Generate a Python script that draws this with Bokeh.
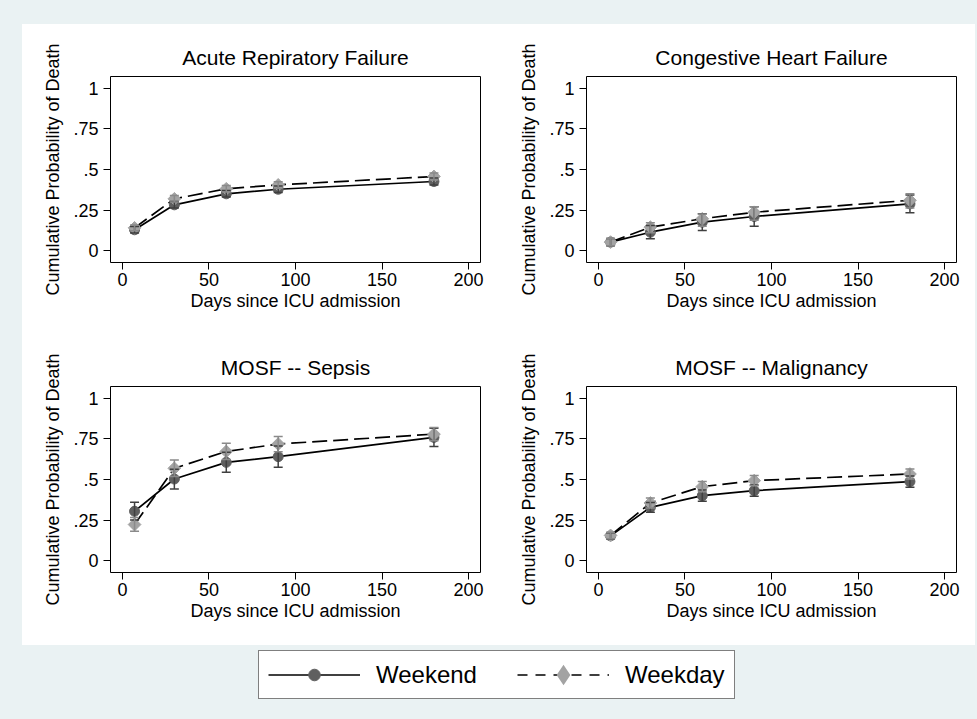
import math
from bokeh.plotting import figure
from bokeh.models import (Range1d, FixedTicker, Whisker, TeeHead, ColumnDataSource,
                          Legend, LegendItem, Spacer)
from bokeh.layouts import column, row
from bokeh.embed import file_html
from bokeh.resources import INLINE

# ---------------- data ----------------
days = [7, 30, 60, 90, 180]

titles = ["Acute Repiratory Failure", "Congestive Heart Failure",
          "MOSF -- Sepsis", "MOSF -- Malignancy"]

arf_weekend = [0.128, 0.282, 0.350, 0.378, 0.426]
arf_weekend_lo = [0.108, 0.262, 0.330, 0.358, 0.404]
arf_weekend_hi = [0.148, 0.302, 0.370, 0.398, 0.448]
arf_weekday = [0.140, 0.319, 0.381, 0.405, 0.457]
arf_weekday_lo = [0.122, 0.299, 0.361, 0.385, 0.435]
arf_weekday_hi = [0.158, 0.339, 0.401, 0.425, 0.479]

chf_weekend = [0.052, 0.113, 0.175, 0.210, 0.288]
chf_weekend_lo = [0.030, 0.072, 0.123, 0.150, 0.233]
chf_weekend_hi = [0.074, 0.154, 0.227, 0.270, 0.343]
chf_weekday = [0.052, 0.144, 0.196, 0.236, 0.310]
chf_weekday_lo = [0.030, 0.110, 0.150, 0.186, 0.262]
chf_weekday_hi = [0.074, 0.171, 0.226, 0.270, 0.350]

sep_weekend = [0.304, 0.503, 0.606, 0.641, 0.760]
sep_weekend_lo = [0.250, 0.442, 0.544, 0.575, 0.704]
sep_weekend_hi = [0.360, 0.564, 0.668, 0.707, 0.816]
sep_weekday = [0.222, 0.569, 0.673, 0.719, 0.780]
sep_weekday_lo = [0.180, 0.518, 0.623, 0.672, 0.739]
sep_weekday_hi = [0.265, 0.620, 0.723, 0.766, 0.821]

mal_weekend = [0.152, 0.328, 0.400, 0.431, 0.487]
mal_weekend_lo = [0.132, 0.298, 0.365, 0.396, 0.452]
mal_weekend_hi = [0.172, 0.358, 0.435, 0.466, 0.522]
mal_weekday = [0.155, 0.355, 0.456, 0.493, 0.534]
mal_weekday_lo = [0.135, 0.324, 0.425, 0.462, 0.503]
mal_weekday_hi = [0.175, 0.386, 0.487, 0.524, 0.565]

x_ticks = [0, 50, 100, 150, 200]
y_ticks = [0, 0.25, 0.5, 0.75, 1]
y_tick_labels = ["0", ".25", ".5", ".75", "1"]
series_names = ["Weekend", "Weekday"]

panels = [
    (arf_weekend, arf_weekend_lo, arf_weekend_hi, arf_weekday, arf_weekday_lo, arf_weekday_hi),
    (chf_weekend, chf_weekend_lo, chf_weekend_hi, chf_weekday, chf_weekday_lo, chf_weekday_hi),
    (sep_weekend, sep_weekend_lo, sep_weekend_hi, sep_weekday, sep_weekday_lo, sep_weekday_hi),
    (mal_weekend, mal_weekend_lo, mal_weekend_hi, mal_weekday, mal_weekday_lo, mal_weekday_hi),
]

# ---------------- style ----------------
BG = "#eaf2f3"
FONT = "Liberation Sans"
C_WEEKEND = "#5f5f5f"
C_WEEKDAY = "#a3a3a3"
C_BAR_WEEKEND = "#3f3f3f"
C_BAR_WEEKDAY = "#8a8a8a"


def make_panel(idx, width, height, left, right, top, bottom):
    we, we_lo, we_hi, wd, wd_lo, wd_hi = panels[idx]
    p = figure(width=width, height=height, output_backend="svg", toolbar_location=None,
               x_range=Range1d(-6.9, 206.9), y_range=Range1d(-0.074, 1.074),
               min_border_left=left, min_border_right=right,
               min_border_top=top, min_border_bottom=bottom,
               background_fill_color="white", border_fill_color="white",
               outline_line_color="black", outline_line_width=1)
    p.title.text = titles[idx]
    p.title.align = "center"
    p.title.text_font = FONT
    p.title.text_font_size = "21px"
    p.title.text_font_style = "normal"
    p.title.text_color = "black"
    p.title.standoff = 15
    p.grid.visible = False

    for ax in (p.xaxis[0], p.yaxis[0]):
        ax.axis_line_color = None
        ax.major_tick_out = 7
        ax.major_tick_in = 0
        ax.minor_tick_line_color = None
        ax.major_tick_line_color = "black"
        ax.major_label_text_font = FONT
        ax.major_label_text_font_size = "18px"
        ax.major_label_text_color = "black"
        ax.axis_label_text_font = FONT
        ax.axis_label_text_font_size = "18px"
        ax.axis_label_text_font_style = "normal"
        ax.axis_label_text_color = "black"
    p.xaxis.ticker = FixedTicker(ticks=x_ticks)
    p.yaxis.ticker = FixedTicker(ticks=y_ticks)
    p.yaxis.major_label_overrides = {t: l for t, l in zip(y_ticks, y_tick_labels)}
    p.yaxis.major_label_orientation = "horizontal"
    p.xaxis.axis_label = "Days since ICU admission"
    p.yaxis.axis_label = "Cumulative Probability of Death"
    p.xaxis.major_label_standoff = 3
    p.xaxis.axis_label_standoff = 2
    p.yaxis.major_label_standoff = 5
    p.yaxis.axis_label_standoff = 7

    src_we = ColumnDataSource(dict(x=days, y=we, lo=we_lo, hi=we_hi))
    src_wd = ColumnDataSource(dict(x=days, y=wd, lo=wd_lo, hi=wd_hi))

    p.line("x", "y", source=src_we, line_color="black", line_width=1.7)
    p.line("x", "y", source=src_wd, line_color="black", line_width=1.7, line_dash="15 6")
    p.scatter("x", "y", source=src_we, marker="circle", size=10,
              fill_color=C_WEEKEND, line_color=C_WEEKEND)
    p.scatter("x", "y", source=src_wd, marker="square", size=9, angle=math.pi / 4,
              fill_color=C_WEEKDAY, line_color=C_WEEKDAY)

    for src, col in ((src_we, C_BAR_WEEKEND), (src_wd, C_BAR_WEEKDAY)):
        w = Whisker(source=src, base="x", lower="lo", upper="hi", dimension="height",
                    line_color=col, line_width=1.5, level="overlay",
                    lower_head=TeeHead(size=9, line_color=col, line_width=1.5),
                    upper_head=TeeHead(size=9, line_color=col, line_width=1.5))
        p.add_layout(w)
    return p


p1 = make_panel(0, 476, 310, 88, 18, 52, 72)
p2 = make_panel(1, 477, 310, 88, 19, 52, 72)
p3 = make_panel(2, 476, 311, 88, 18, 52, 73)
p4 = make_panel(3, 477, 311, 88, 19, 52, 73)

# ---------------- legend strip ----------------
# the legend's renderers use the ARF series, placed outside this strip's visible ranges
leg = figure(width=977, height=74, output_backend="svg", toolbar_location=None,
             x_range=Range1d(1000, 1001), y_range=Range1d(1000, 1001),
             min_border=0, min_border_left=0, min_border_right=0,
             min_border_top=0, min_border_bottom=0,
             background_fill_color=BG, border_fill_color=BG, outline_line_color=None)
leg.axis.visible = False
leg.grid.visible = False
l1 = leg.line(days, arf_weekend, line_color="black", line_width=1.6)
m1 = leg.scatter(days, arf_weekend, marker="circle", size=12,
                 fill_color=C_WEEKEND, line_color=C_WEEKEND)
l2 = leg.line(days, arf_weekday, line_color="black", line_width=1.6, line_dash="10 8")
m2 = leg.scatter(days, arf_weekday, marker="diamond", size=13,
                 fill_color=C_WEEKDAY, line_color=C_WEEKDAY, line_width=5,
                 line_join="miter")
legend = Legend(items=[LegendItem(label=series_names[0], renderers=[l1, m1]),
                       LegendItem(label=series_names[1], renderers=[l2, m2])],
                orientation="horizontal", location=(258, 20),
                glyph_width=92, glyph_height=29, label_standoff=16, spacing=40,
                padding=9, margin=0,
                label_text_font=FONT, label_text_font_size="24px",
                label_text_color="black",
                border_line_color="black", border_line_width=1,
                background_fill_color="white", background_fill_alpha=1.0)
leg.add_layout(legend, "center")

bg = {"background-color": BG}
white = {"background-color": "white"}
top_strip = Spacer(width=977, height=24, styles=bg)
left_strip = Spacer(width=22, height=621, styles=bg)
right_strip = Spacer(width=2, height=621, styles=bg)

grid = column(row(p1, p2, spacing=0, styles=white), row(p3, p4, spacing=0, styles=white),
              spacing=0, styles=white)
root = column(top_strip, row(left_strip, grid, right_strip, spacing=0), leg,
              spacing=0, styles=bg)

open("out.html", "w").write(file_html(root, INLINE))
